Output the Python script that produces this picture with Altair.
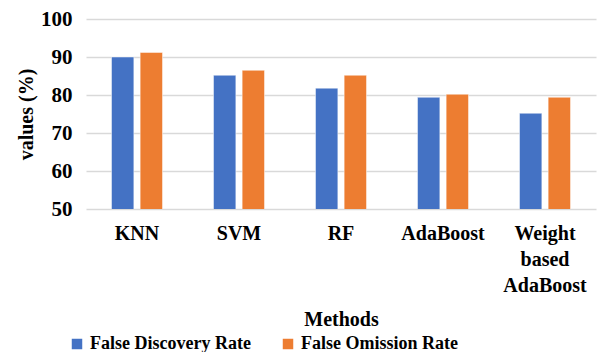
import altair as alt
import pandas as pd

methods = ["KNN", "SVM", "RF", "AdaBoost", "Weight based AdaBoost"]
fdr = [90.0, 85.2, 81.8, 79.4, 75.2]
fomr = [91.2, 86.5, 85.2, 80.2, 79.4]
series = ["False Discovery Rate", "False Omission Rate"]
colors = ["#4472C4", "#ED7D31"]

rows = []
for m, a, b in zip(methods, fdr, fomr):
    rows.append({"method": m, "series": series[0], "value": a})
    rows.append({"method": m, "series": series[1], "value": b})
df = pd.DataFrame(rows)

FONT = "Liberation Serif"

chart = alt.Chart(df).mark_bar(clip=True, stroke="white", strokeWidth=0.8, strokeOpacity=0.6).encode(
    x=alt.X("method:N", sort=methods,
            scale=alt.Scale(paddingInner=0.5, paddingOuter=0.25),
            axis=alt.Axis(title="Methods", labelAngle=0, ticks=False, domain=False,
                          labelFontSize=20, labelFont=FONT, labelFontWeight="bold",
                          labelColor="black", labelPadding=14, labelLineHeight=26,
                          labelBaseline="top",
                          labelExpr="datum.value == 'Weight based AdaBoost' ? ['Weight', 'based', 'AdaBoost'] : datum.value",
                          titleFontSize=20, titleFont=FONT, titleFontWeight="bold",
                          titleColor="black", titlePadding=14)),
    xOffset=alt.XOffset("series:N", sort=series, scale=alt.Scale(paddingInner=0.22)),
    y=alt.Y("value:Q", scale=alt.Scale(domain=[50, 100], nice=False, zero=False),
            axis=alt.Axis(title="values (%)", values=[50, 60, 70, 80, 90, 100],
                          ticks=False, domain=False, grid=True, gridColor="#D9D9D9",
                          gridWidth=1.5, labelFontSize=21, labelFont=FONT,
                          labelFontWeight="bold", labelColor="black", labelPadding=14,
                          titleFontSize=20, titleFont=FONT, titleFontWeight="bold",
                          titleColor="black", titlePadding=4)),
    color=alt.Color("series:N", sort=series,
                    scale=alt.Scale(domain=series, range=colors),
                    legend=alt.Legend(title=None, orient="none", direction="horizontal",
                                      legendX=-18, legendY=316, symbolType="square",
                                      symbolSize=110, symbolStrokeWidth=0,
                                      labelFontSize=18, labelFont=FONT,
                                      labelFontWeight="bold", labelColor="black",
                                      columnPadding=28, labelLimit=300)),
).properties(
    width=510, height=190,
    autosize=alt.AutoSizeParams(type="none"),
    padding={"left": 78, "top": 11, "right": 2, "bottom": 143},
).configure_view(stroke=None)

chart.save("out.html", embed_options={"renderer": "svg", "actions": False})
